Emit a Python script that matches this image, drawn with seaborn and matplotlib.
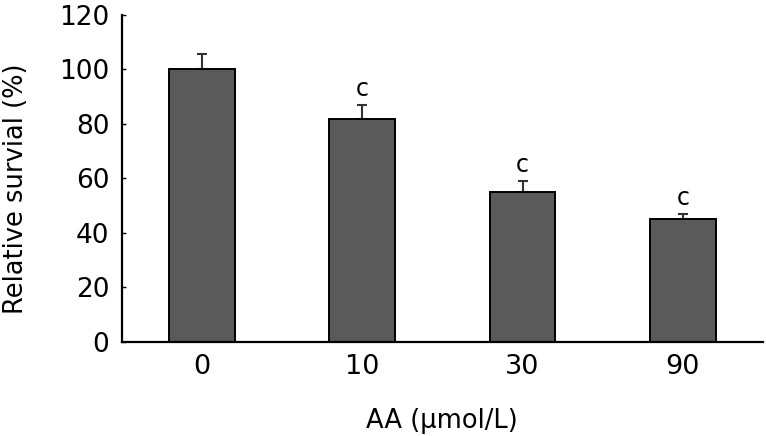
import numpy as np
import pandas as pd
import matplotlib
matplotlib.use("Agg")
import matplotlib.pyplot as plt
import seaborn as sns

# values
doses = ["0", "10", "30", "90"]
survival = [100, 82, 55, 45]
sem = [5.8, 4.8, 4.2, 2.0]
marks = ["", "c", "c", "c"]

sns.set_theme(style="ticks")
plt.rcParams['font.family'] = ['DejaVu Sans']
plt.rcParams['text.color'] = 'black'
plt.rcParams['axes.labelcolor'] = 'black'
plt.rcParams['xtick.color'] = 'black'
plt.rcParams['ytick.color'] = 'black'

df = pd.DataFrame({"dose": doses, "survival": survival})

fig = plt.figure(figsize=(7.66, 4.36), dpi=100)
ax = fig.add_axes([0.159, 0.2156, 0.837, 0.75])

sns.barplot(data=df, x="dose", y="survival", color="#5a5a5a", width=0.41,
            edgecolor="black", linewidth=1.4, saturation=1, ax=ax, zorder=2)

# one-sided error bars (upward only)
xs = np.arange(len(doses))
ax.errorbar(xs, survival, yerr=[np.zeros(len(sem)), sem], fmt="none",
            ecolor="#333333", elinewidth=1.5, capsize=3.5, capthick=1.5, zorder=1)

for x, y, e, m in zip(xs, survival, sem, marks):
    if m:
        ax.text(x, y + e + 1.5, m, ha="center", va="bottom", fontsize=17,
                color="black")

ax.set_xlim(-0.5, 3.5)
ax.set_ylim(0, 120)
ax.set_yticks(range(0, 121, 20))
ax.tick_params(axis="y", direction="in", length=3, width=1, labelsize=19, pad=9)
ax.tick_params(axis="x", length=0, labelsize=19.5, pad=9)
for s in ["top", "right"]:
    ax.spines[s].set_visible(False)
ax.spines["left"].set_linewidth(1.6)
ax.spines["bottom"].set_linewidth(1.6)
ax.spines["left"].set_color("black")
ax.spines["bottom"].set_color("black")
ax.set_xlabel("AA (μmol/L)", fontsize=18.5, labelpad=20)
ax.set_ylabel("Relative survial (%)", fontsize=18.5)
ax.yaxis.set_label_coords(-0.145, 0.47)

fig.savefig("out.png", dpi=100)
